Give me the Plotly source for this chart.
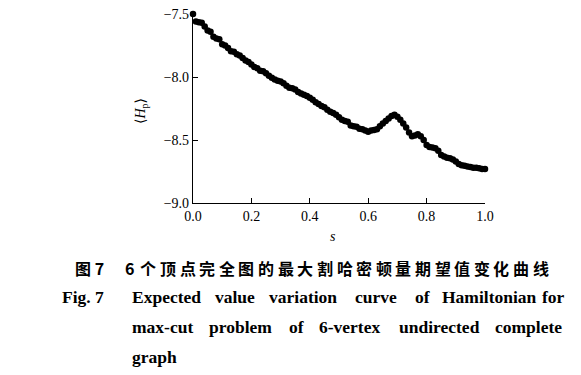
import plotly.graph_objects as go

s_values = [round(i * 0.01, 2) for i in range(101)]
hp_values = [
    -7.500, -7.560, -7.565, -7.570, -7.600, -7.630, -7.640, -7.680, -7.695, -7.700,
    -7.740, -7.750, -7.770, -7.795, -7.800, -7.820, -7.830, -7.850, -7.870, -7.880,
    -7.900, -7.920, -7.930, -7.950, -7.955, -7.970, -7.990, -8.005, -8.020, -8.030,
    -8.035, -8.050, -8.070, -8.085, -8.090, -8.100, -8.120, -8.130, -8.140, -8.150,
    -8.165, -8.180, -8.200, -8.215, -8.230, -8.240, -8.260, -8.275, -8.285, -8.300,
    -8.320, -8.340, -8.350, -8.355, -8.385, -8.390, -8.395, -8.410, -8.415, -8.425,
    -8.435, -8.425, -8.420, -8.415, -8.390, -8.370, -8.350, -8.330, -8.310, -8.300,
    -8.315, -8.340, -8.370, -8.400, -8.440, -8.470, -8.465, -8.455, -8.470, -8.500,
    -8.540, -8.555, -8.560, -8.565, -8.585, -8.620, -8.630, -8.640, -8.645, -8.655,
    -8.670, -8.690, -8.700, -8.705, -8.710, -8.715, -8.720, -8.720, -8.725, -8.730,
    -8.730,
]
x_ticks = [0.0, 0.2, 0.4, 0.6, 0.8, 1.0]
x_tick_labels = ["0.0", "0.2", "0.4", "0.6", "0.8", "1.0"]
y_ticks = [-9.0, -8.5, -8.0, -7.5]
y_tick_labels = ["\u22129.0", "\u22128.5", "\u22128.0", "\u22127.5"]

cn_label = "图 7"
cn_num = "6"
cn_chars = "个顶点完全图的最大割哈密顿量期望值变化曲线"
en_label = "Fig. 7"
en_lines = [
    ["Expected", "value", "variation", "curve", "of", "Hamiltonian", "for"],
    ["max-cut", "problem", "of", "6-vertex", "undirected", "complete"],
    ["graph"],
]
en_word_x = [
    [130, 213, 267, 353, 413, 440, 540],
    [130, 207, 287, 317, 397, 493],
    [130],
]
en_line_y = [297, 327, 357]

W, H = 581, 375
L, R, T, B = 193, 485, 14, 203

serif = "Liberation Serif, Times New Roman, serif"
cjk = "Noto Sans CJK SC, sans-serif"

fig = go.Figure()
fig.add_trace(go.Scatter(
    x=s_values, y=hp_values, mode="markers",
    marker=dict(color="black", size=6.5, line=dict(width=0)),
    cliponaxis=False, showlegend=False,
))

axis_common = dict(showgrid=False, zeroline=False, showline=True, linecolor="black",
                   linewidth=1.2, ticks="inside", ticklen=5, tickwidth=1.2,
                   tickcolor="black", tickfont=dict(family=serif, size=14),
                   automargin=False)
fig.update_layout(
    template="none",
    width=W, height=H,
    margin=dict(l=L, r=W - R, t=T, b=H - B, pad=0),
    paper_bgcolor="white", plot_bgcolor="white",
    font=dict(family=serif, color="black", size=14),
    xaxis=dict(range=[0, 1], tickvals=x_ticks, ticktext=x_tick_labels, **axis_common),
    yaxis=dict(range=[-9.0, -7.5], tickvals=y_ticks, ticktext=y_tick_labels, **axis_common),
)

def px_ann(text, x, y, size, family, xanchor="left", angle=0, bold=False):
    fig.add_annotation(
        text=text, x=(x - L) / (R - L), y=(B - y) / (B - T),
        xref="paper", yref="paper",
        showarrow=False, xanchor=xanchor, yanchor="middle", textangle=angle,
        font=dict(size=size, family=family, color="black",
                  weight="bold" if bold else "normal"),
    )

# axis titles
px_ann("\u27e8<i>H</i><sub>p</sub>\u27e9", 141, 111, 14, serif + ", DejaVu Serif",
       xanchor="center", angle=-90)
px_ann("<i>s</i>", 333, 236, 14, serif, xanchor="center")

# captions
px_ann(cn_label, 73, 268, 16, cjk, bold=True)
px_ann(cn_num, 123, 268, 16, cjk, bold=True)
pitch = (552 - 140) / len(cn_chars)
for i, ch in enumerate(cn_chars):
    px_ann(ch, 140 + i * pitch + pitch / 2 - 1.5, 268, 16, cjk, xanchor="center", bold=True)

px_ann(en_label, 60, en_line_y[0], 17.5, serif, bold=True)
for words, xs, y in zip(en_lines, en_word_x, en_line_y):
    for w, x in zip(words, xs):
        px_ann(w, x, y, 17.5, serif, bold=True)

fig.write_html("out.html", config={"displayModeBar": False},
               post_script="document.body.style.margin='0px';")
